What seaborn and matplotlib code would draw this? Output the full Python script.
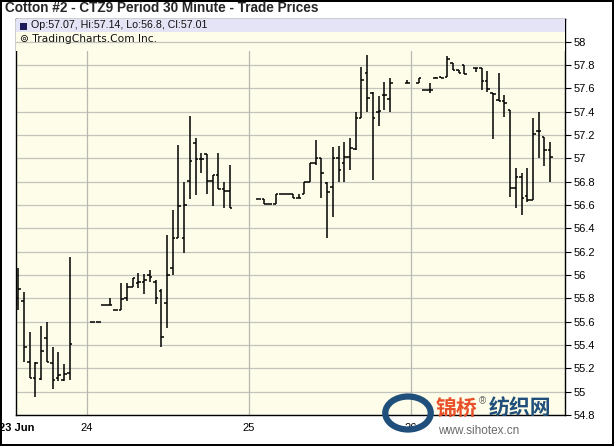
import numpy as np
import pandas as pd
import matplotlib
matplotlib.use("Agg")
import matplotlib.pyplot as plt
import matplotlib.patches as mpatches
import seaborn as sns

# 30-minute bars (slot index along the time axis)
slot = [0, 1, 2, 3, 4, 5, 6, 7, 8, 9,
        13, 14, 15, 16, 17, 18, 19, 20, 21, 22, 23, 24, 25, 26, 27, 28, 29,
        30, 31, 32, 33, 34, 35, 36, 37,
        42, 43, 44, 45, 46, 47, 48, 49, 50, 51, 52, 53, 54, 55, 56, 57, 58,
        59, 60, 61, 62, 63, 64, 65,
        68, 70, 71, 72, 73, 74, 75, 76, 77, 78,
        80, 81, 82, 83, 84, 85, 86, 87, 88, 89, 90, 91, 92, 93]
opens = [55.80, 55.78, 55.257, 55.114, 55.11, 55.457, 55.243, 55.114, 55.10, 55.157,
         55.60, 55.60, 55.743, 55.743, 55.70, 55.70, 55.80, 55.90, 55.93, 55.94, 56.0, 55.943, 55.866, 55.757, 56.057, 56.314, 56.314,
         56.806, 57.128, 56.99, 57.037, 56.806, 56.857, 56.734, 56.723,
         56.649, 56.649, 56.606, 56.606, 56.694, 56.694, 56.694, 56.66, 56.694, 56.80, 56.957, 57.0, 56.791, 56.757, 57.0, 56.957, 57.014,
         57.077, 57.343, 57.729, 57.557, 57.40, 57.543, 57.506,
         57.643, 57.643, 57.586, 57.586, 57.686, 57.70, 57.70, 57.814, 57.757, 57.80,
         57.777, 57.777, 57.66, 57.557, 57.50, 57.49, 57.414, 56.743, 56.843, 56.677, 56.643, 57.237, 57.18, 57.07]
highs = [56.057, 55.857, 55.514, 55.257, 55.563, 55.60, 55.386, 55.336, 55.24, 56.157,
         55.60, 55.60, 55.743, 55.80, 55.70, 55.93, 55.93, 55.977, 56.014, 56.01, 56.043, 55.957, 55.877, 56.343, 56.557, 57.114, 56.80,
         57.363, 57.17, 57.049, 57.037, 56.857, 57.043, 56.80, 56.943,
         56.649, 56.649, 56.606, 56.694, 56.694, 56.694, 56.694, 56.694, 56.80, 56.957, 57.157, 57.0, 56.80, 57.10, 57.106, 57.143, 57.171,
         57.40, 57.78, 57.886, 57.571, 57.534, 57.657, 57.686,
         57.671, 57.686, 57.586, 57.643, 57.70, 57.70, 57.877, 57.814, 57.757, 57.80,
         57.777, 57.777, 57.749, 57.563, 57.729, 57.543, 57.414, 56.914, 56.871, 56.914, 57.343, 57.40, 57.18, 57.14]
lows = [55.70, 55.257, 55.114, 54.957, 55.10, 55.257, 55.02, 55.09, 55.09, 55.10,
        55.60, 55.60, 55.743, 55.743, 55.70, 55.70, 55.78, 55.90, 55.886, 55.837, 55.943, 55.751, 55.386, 55.549, 56.0, 56.314, 56.186,
        56.651, 56.686, 56.877, 56.69, 56.591, 56.734, 56.571, 56.571,
        56.649, 56.606, 56.606, 56.606, 56.694, 56.694, 56.66, 56.66, 56.694, 56.80, 56.943, 56.657, 56.314, 56.50, 56.80, 56.80, 56.90,
        57.071, 57.343, 57.40, 56.814, 57.277, 57.414, 57.40,
        57.643, 57.643, 57.586, 57.563, 57.686, 57.686, 57.70, 57.757, 57.729, 57.72,
        57.74, 57.586, 57.571, 57.166, 57.49, 57.357, 56.671, 56.571, 56.514, 56.629, 56.643, 57.0, 56.934, 56.80]
closes = [55.877, 55.386, 55.114, 55.243, 55.35, 55.257, 55.10, 55.14, 55.15, 55.405,
          55.60, 55.60, 55.743, 55.743, 55.70, 55.79, 55.90, 55.97, 55.94, 55.957, 55.986, 55.80, 55.466, 56.0, 56.314, 56.59, 56.60,
          56.977, 56.99, 56.99, 56.806, 56.857, 56.734, 56.723, 56.571,
          56.649, 56.606, 56.606, 56.694, 56.694, 56.694, 56.66, 56.66, 56.80, 56.957, 57.0, 56.871, 56.714, 57.0, 56.90, 57.014, 57.086,
          57.343, 57.671, 57.514, 57.343, 57.406, 57.543, 57.643,
          57.643, 57.686, 57.586, 57.586, 57.686, 57.686, 57.85, 57.757, 57.729, 57.72,
          57.777, 57.66, 57.591, 57.55, 57.49, 57.477, 56.743, 56.843, 56.657, 56.64, 57.209, 57.237, 57.071, 57.01]

day_pos = [-0.3, 12.0, 40.3, 68.6]
day_labels = ["23 Jun", "24", "25", "26"]
price_ticks = [54.8, 55.0, 55.2, 55.4, 55.6, 55.8, 56.0, 56.2, 56.4, 56.6,
               56.8, 57.0, 57.2, 57.4, 57.6, 57.8, 58.0]

df = pd.DataFrame({"slot": slot, "open": opens, "high": highs,
                   "low": lows, "close": closes})

sns.set_style("white")
plt.rcParams["font.family"] = ["Liberation Sans", "DejaVu Sans"]

fig = plt.figure(figsize=(6.14, 4.46), dpi=100)
fig.patch.set_facecolor("white")
fig.patch.set_edgecolor("black")
fig.patch.set_linewidth(1.5)

W, H = 614, 446
ax = fig.add_axes([16 / W, 1 - 415 / H, (565 - 16) / W, (415 - 19) / H])
ax.set_facecolor("#fdfdea")

ax.set_xlim(-0.4, 95.6)
ax.set_ylim(54.8, 58.194)

# grid
for p in price_ticks:
    ax.axhline(p, color="#c4c4bc", lw=0.9, zorder=0)
for d in day_pos[1:]:
    ax.axvline(d, color="#b8b8b0", lw=0.9, zorder=0)

# OHLC bars
t = 0.45
ax.vlines(df["slot"], df["low"], df["high"], color="black", lw=1.1, zorder=3)
ax.hlines(df["open"], df["slot"] - t, df["slot"], color="black", lw=1.1, zorder=3)
ax.hlines(df["close"], df["slot"], df["slot"] + t, color="black", lw=1.1, zorder=3)

# axes styling
for s in ax.spines.values():
    s.set_color("black")
    s.set_linewidth(1.0)
ax.yaxis.tick_right()
ax.set_yticks(price_ticks)
ax.set_yticklabels(["{:g}".format(p) for p in price_ticks])
ax.set_xticks(day_pos)
ax.set_xticklabels(day_labels)
ax.get_xticklabels()[0].set_fontweight("bold")
ax.tick_params(axis="both", direction="out", length=4, width=0.8,
               colors="black", labelsize=8, pad=1.5)
ax.tick_params(axis="y", pad=2)

# legend band at the top of the plot area
ax.add_patch(mpatches.Rectangle((0, 1 - 13 / 396), 1, 13 / 396,
                                transform=ax.transAxes, facecolor="#e4e4f6",
                                edgecolor="none", zorder=4))
ax.add_patch(mpatches.Rectangle((0, 1 - 32 / 396), 1, 19 / 396,
                                transform=ax.transAxes, facecolor="#fdfdea",
                                edgecolor="none", zorder=3.5))
ax.axhline(58.0, color="#c4c4bc", lw=0.9, zorder=3.6)
ax.add_patch(mpatches.Rectangle((4 / 549, 1 - 10.5 / 396), 7 / 549, 7 / 396,
                                transform=ax.transAxes, facecolor="#1c1c5c",
                                edgecolor="none", zorder=5))
ax.text(15 / 549, 1 - 6.5 / 396, "Op:57.07, Hi:57.14, Lo:56.8, Cl:57.01",
        transform=ax.transAxes, fontsize=7.7, va="center", ha="left",
        color="#111111", zorder=5)
ax.text(4 / 549, 1 - 19.5 / 396, "\u229a TradingCharts.Com Inc.",
        transform=ax.transAxes, fontsize=7.7, va="center", ha="left",
        color="#111111", zorder=5, family=["DejaVu Sans"])

fig.text(5 / W, 1 - 8 / H, "Cotton #2 - CTZ9 Period 30 Minute - Trade Prices",
         fontsize=9.8, fontweight="bold", va="center", ha="left")

# watermark of the source site
fig.patches.append(mpatches.Circle((408 / W, 1 - 413 / H), 0.037,
                                   transform=fig.transFigure, fill=False,
                                   edgecolor="#1f4f7a", lw=4.5, zorder=10))
fig.text(436 / W, 1 - 408 / H, "锦桥", fontsize=15, fontweight="bold",
         color="#e8502a", va="center", ha="left", family=["Noto Sans CJK SC"], zorder=11)
fig.text(479 / W, 1 - 401 / H, "®", fontsize=7, color="#666666",
         va="center", ha="left", zorder=11)
fig.text(489 / W, 1 - 408 / H, "纺织网", fontsize=15, fontweight="bold",
         color="#1f4f7a", va="center", ha="left", family=["Noto Sans CJK SC"], zorder=11)
fig.text(438 / W, 1 - 431 / H, "www.sihotex.cn", fontsize=8.5, color="#6a6a6a",
         va="center", ha="left", zorder=11)

fig.savefig("out.png", dpi=100)
